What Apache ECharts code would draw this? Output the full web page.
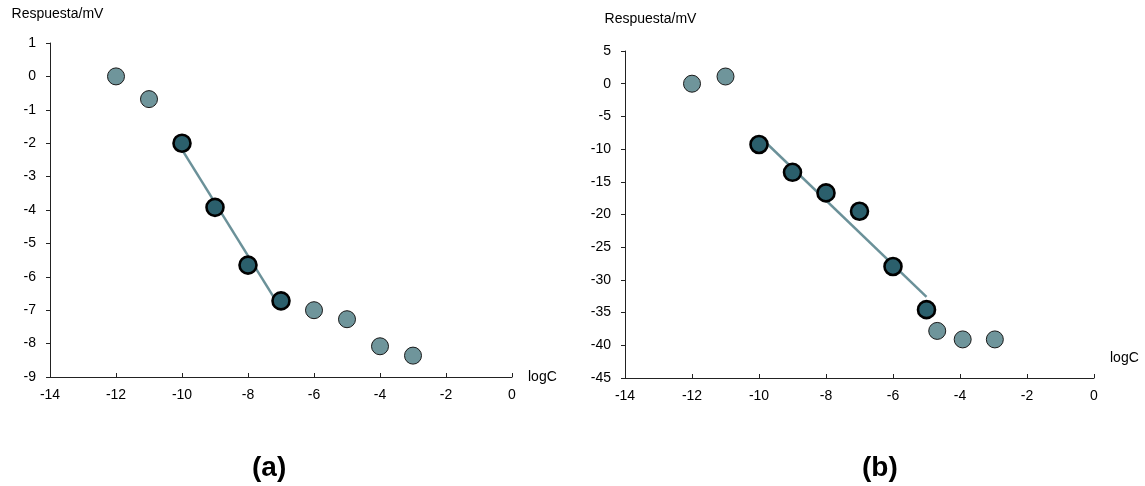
<!DOCTYPE html>
<html>
<head>
<meta charset="utf-8">
<script src="https://cdn.jsdelivr.net/npm/echarts@6/dist/echarts.min.js"></script>
<style>html,body{margin:0;padding:0;background:#fff}#c{width:1145px;height:486px}</style>
</head>
<body>
<div id="c"></div>
<script>
// ---- Panel (a) data ----
var aLightX = [-12, -11, -6, -5, -4, -3];
var aLightY = [0, -0.68, -7.0, -7.27, -8.08, -8.36];
var aDarkX = [-10, -9, -8, -7];
var aDarkY = [-2.0, -3.92, -5.65, -6.72];
var aFitX = [-10, -7];
var aFitY = [-2.19, -6.96];
// ---- Panel (b) data ----
var bLightX = [-12, -11, -4.68, -3.92, -2.96];
var bLightY = [0, 1.1, -37.8, -39.1, -39.1];
var bDarkX = [-10, -9, -8, -7, -6, -5];
var bDarkY = [-9.3, -13.55, -16.7, -19.5, -27.95, -34.55];
var bFitX = [-10, -5];
var bFitY = [-8.0, -32.6];
// ---- axes / labels ----
var xTicks = {min: -14, max: 0, interval: 2};
var aYTicks = {min: -9, max: 1, interval: 1};
var bYTicks = {min: -45, max: 5, interval: 5};
var xName = 'logC';
var yName = 'Respuesta/mV';
var panelLabels = ['(a)', '(b)'];

function pairs(xs, ys) { return xs.map(function (x, i) { return [x, ys[i]]; }); }

var FONT = 'Liberation Sans, Arial, sans-serif';
var lightFill = '#6f959b', darkFill = '#2b5f6c', lineColor = '#6b9199';

function xAxisCfg(gi, nameStyle) {
  return {
    gridIndex: gi, type: 'value', min: xTicks.min, max: xTicks.max, interval: xTicks.interval,
    axisLine: {show: true, onZero: false, lineStyle: {color: '#222', width: 1}},
    axisTick: {show: true, inside: true, length: 4, lineStyle: {color: '#222'}},
    splitLine: {show: false},
    axisLabel: {color: '#000', fontSize: 14, fontFamily: FONT, margin: 11},
    name: xName, nameLocation: 'end', nameGap: 16,
    nameTextStyle: Object.assign({color: '#000', fontSize: 14, fontFamily: FONT}, nameStyle)
  };
}
function yAxisCfg(gi, t, gap, pad) {
  return {
    gridIndex: gi, type: 'value', min: t.min, max: t.max, interval: t.interval,
    axisLine: {show: true, onZero: false, lineStyle: {color: '#222', width: 1}},
    axisTick: {show: true, inside: false, length: 4, lineStyle: {color: '#222'}},
    splitLine: {show: false},
    axisLabel: {color: '#000', fontSize: 14, fontFamily: FONT, margin: 14},
    name: yName, nameLocation: 'end', nameGap: gap,
    nameTextStyle: {color: '#000', fontSize: 14, fontFamily: FONT, padding: pad}
  };
}
function lightSeries(xi, data) {
  return {type: 'scatter', xAxisIndex: xi, yAxisIndex: xi, data: data, symbolSize: 17, z: 3,
    itemStyle: {color: lightFill, borderColor: '#1a1a1a', borderWidth: 1, opacity: 1}};
}
function darkSeries(xi, data) {
  return {type: 'scatter', xAxisIndex: xi, yAxisIndex: xi, data: data, symbolSize: 17, z: 4,
    itemStyle: {color: darkFill, borderColor: '#000', borderWidth: 2.6, opacity: 1}};
}
function fitSeries(xi, data) {
  return {type: 'line', xAxisIndex: xi, yAxisIndex: xi, data: data, showSymbol: false, z: 2,
    lineStyle: {color: lineColor, width: 2.5}, silent: true};
}

var chart = echarts.init(document.getElementById('c'), null, {renderer: 'canvas'});
chart.setOption({
  animation: false,
  backgroundColor: '#fff',
  grid: [
    {left: 50, top: 43, width: 462, height: 334},
    {left: 625, top: 51, width: 469, height: 327}
  ],
  xAxis: [
    xAxisCfg(0, {}),
    xAxisCfg(1, {verticalAlign: 'bottom', padding: [0, 0, 13, 0]})
  ],
  yAxis: [yAxisCfg(0, aYTicks, 22, [0, 0, 0, 15]), yAxisCfg(1, bYTicks, 25, [0, 0, 0, 51])],
  series: [
    fitSeries(0, pairs(aFitX, aFitY)),
    lightSeries(0, pairs(aLightX, aLightY)),
    darkSeries(0, pairs(aDarkX, aDarkY)),
    fitSeries(1, pairs(bFitX, bFitY)),
    lightSeries(1, pairs(bLightX, bLightY)),
    darkSeries(1, pairs(bDarkX, bDarkY))
  ],
  graphic: [
    {type: 'text', left: 252, top: 454, style: {text: panelLabels[0], fontSize: 28, fontWeight: 'bold', fontFamily: FONT, fill: '#000'}},
    {type: 'text', left: 862, top: 454, style: {text: panelLabels[1], fontSize: 28, fontWeight: 'bold', fontFamily: FONT, fill: '#000'}}
  ]
});
</script>
</body>
</html>
